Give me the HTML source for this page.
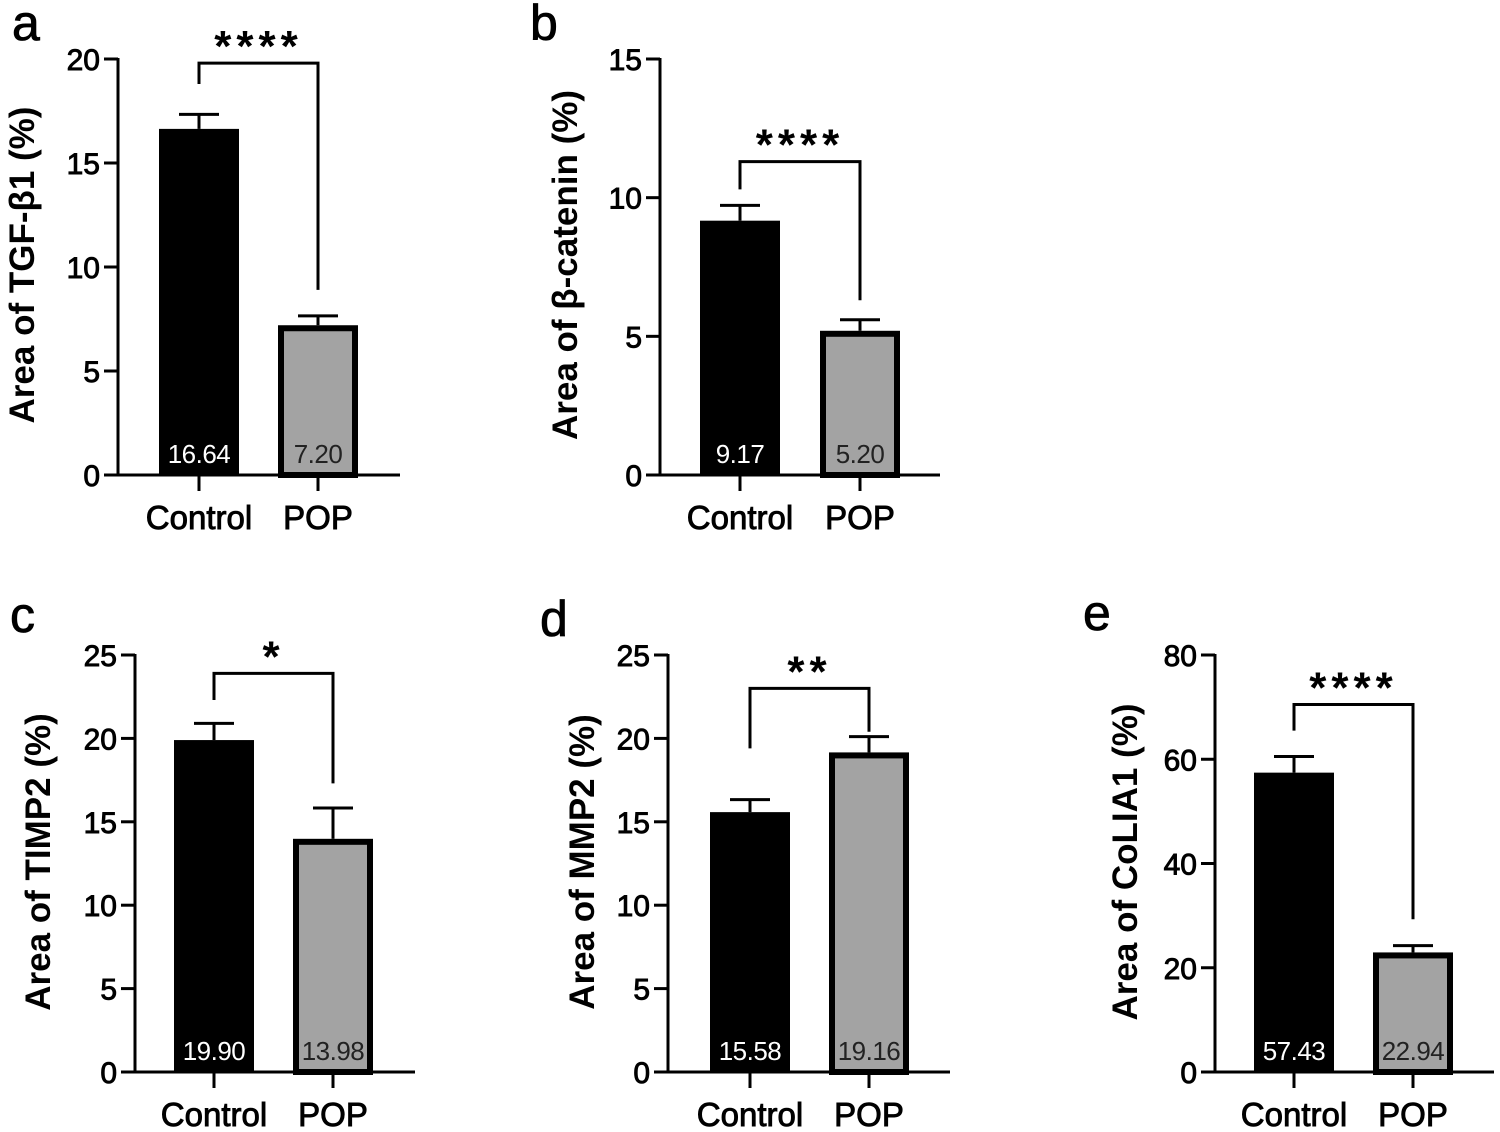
<!DOCTYPE html>
<html><head><meta charset="utf-8">
<style>
html,body{margin:0;padding:0;background:#fff;}
svg{display:block;font-family:"Liberation Sans",Arial,sans-serif;}
</style></head>
<body>
<svg id="fig" width="1500" height="1132" viewBox="0 0 1500 1132" xmlns="http://www.w3.org/2000/svg"></svg>
<script>
// ---- data ----
const categories = ["Control", "POP"];
const panelLetters = ["a", "b", "c", "d", "e"];
const yTitles = ["Area of TGF-β1 (%)", "Area of β-catenin (%)", "Area of TIMP2 (%)", "Area of MMP2 (%)", "Area of CoLIA1 (%)"];
const controlValues = [16.64, 9.17, 19.90, 15.58, 57.43];
const popValues = [7.20, 5.20, 13.98, 19.16, 22.94];
const controlErr = [0.7, 0.55, 1.0, 0.75, 3.1];
const popErr = [0.45, 0.4, 1.85, 0.95, 1.3];
const yMax = [20, 15, 25, 25, 80];
const yStep = [5, 5, 5, 5, 20];
const sigLabels = ["****", "****", "*", "**", "****"];
const bracketLevel = [19.8, 11.3, 23.9, 23, 70.5];
const bracketDropCtrl = [18.8, 10.3, 22.3, 19.4, 65.5];
const bracketDropPop = [8.9, 6.3, 17.3, 20.4, 29.3];

// ---- layout (pixels) ----
const layout = [
  {ax:118, y0:475, yTop:59, xEnd:400, c1:199, c2:318, lx:12, ly:40, tx:22, ty:265},
  {ax:660, y0:475, yTop:59, xEnd:940, c1:740, c2:860, lx:530, ly:40, tx:565, ty:265},
  {ax:135, y0:1072, yTop:655, xEnd:415, c1:214, c2:333, lx:10, ly:632, tx:38, ty:862},
  {ax:668, y0:1072, yTop:655, xEnd:950, c1:750, c2:869, lx:540, ly:636, tx:582, ty:862},
  {ax:1215, y0:1072, yTop:655, xEnd:1494, c1:1294, c2:1413, lx:1083, ly:630, tx:1125, ty:862}
];
const NS = "http://www.w3.org/2000/svg";
const svg = document.getElementById("fig");
function mk(tag, attrs, parent){
  const e = document.createElementNS(NS, tag);
  for (const k in attrs) e.setAttribute(k, attrs[k]);
  (parent||svg).appendChild(e);
  return e;
}
const BW = 80;
for (let p = 0; p < 5; p++){
  const L = layout[p];
  const y = v => L.y0 - (v / yMax[p]) * (L.y0 - L.yTop);
  const g = mk("g", {});
  
  

  const letter = mk("text", {x:L.lx, y:L.ly, "font-size":50, fill:"#000", stroke:"#000", "stroke-width":0.8}, g);
  letter.textContent = panelLetters[p];
  
  

  const vals = [controlValues[p], popValues[p]];
  const errs = [controlErr[p], popErr[p]];
  const cx = [L.c1, L.c2];
  for (let i = 0; i < 2; i++){
    const top = y(vals[i]);
    const eb = mk("line", {x1:cx[i], x2:cx[i], y1:top, y2:y(vals[i]+errs[i]), stroke:"#000", "stroke-width":3}, g);
    
    
    const cap = mk("line", {x1:cx[i]-20, x2:cx[i]+20, y1:y(vals[i]+errs[i]), y2:y(vals[i]+errs[i]), stroke:"#000", "stroke-width":3}, g);
    
    
    let bar;
    if (i === 0){
      bar = mk("rect", {x:cx[i]-BW/2, y:top, width:BW, height:L.y0-top, fill:"#000"}, g);
    } else {
      bar = mk("rect", {x:cx[i]-BW/2+3, y:top+3, width:BW-6, height:L.y0-top-3, fill:"#a3a3a3", stroke:"#000", "stroke-width":6}, g);
    }
    
    
    const vt = mk("text", {x:cx[i], y:L.y0-12, "font-size":26, "text-anchor":"middle", fill: i===0?"#fff":"#222", "letter-spacing":-0.5}, g);
    vt.textContent = vals[i].toFixed(2);
    
    
    const tk = mk("line", {x1:cx[i], x2:cx[i], y1:L.y0, y2:L.y0+16, stroke:"#000", "stroke-width":3}, g);
    
    
    const xl = mk("text", {x:cx[i], y:L.y0+54, "font-size":33, "text-anchor":"middle", fill:"#000", stroke:"#000", "stroke-width":0.9}, g);
    xl.textContent = categories[i];
    
    
  }
  const ya = mk("line", {x1:L.ax, x2:L.ax, y1:L.yTop-1, y2:L.y0+1.5, stroke:"#000", "stroke-width":3}, g);
  
  
  const xa = mk("line", {x1:L.ax-1.5, x2:L.xEnd, y1:L.y0, y2:L.y0, stroke:"#000", "stroke-width":3}, g);
  
  
  for (let v = 0; v <= yMax[p]; v += yStep[p]){
    const t = mk("line", {x1:L.ax-14, x2:L.ax, y1:y(v), y2:y(v), stroke:"#000", "stroke-width":3}, g);
    
    
    const tl = mk("text", {x:L.ax-18, y:y(v)+11, "font-size":30, "text-anchor":"end", fill:"#000", stroke:"#000", "stroke-width":0.9}, g);
    tl.textContent = v;
    
    
  }
  const yt = mk("text", {x:0, y:0, "font-size":35, "font-weight":"bold", "text-anchor":"middle", transform:`translate(${L.tx+12},${L.ty}) rotate(-90)`, fill:"#000"}, g);
  yt.textContent = yTitles[p];
  
  
  const br = mk("polyline", {points:`${L.c1},${y(bracketDropCtrl[p])} ${L.c1},${y(bracketLevel[p])} ${L.c2},${y(bracketLevel[p])} ${L.c2},${y(bracketDropPop[p])}`, fill:"none", stroke:"#000", "stroke-width":3}, g);
  
  
  const st = mk("text", {x:(L.c1+L.c2)/2, y:y(bracketLevel[p])-2, "font-size":44, "font-weight":"bold", "text-anchor":"middle", "letter-spacing":5, fill:"#000"}, g);
  st.textContent = sigLabels[p];
  
  
}
</script>
</body></html>
